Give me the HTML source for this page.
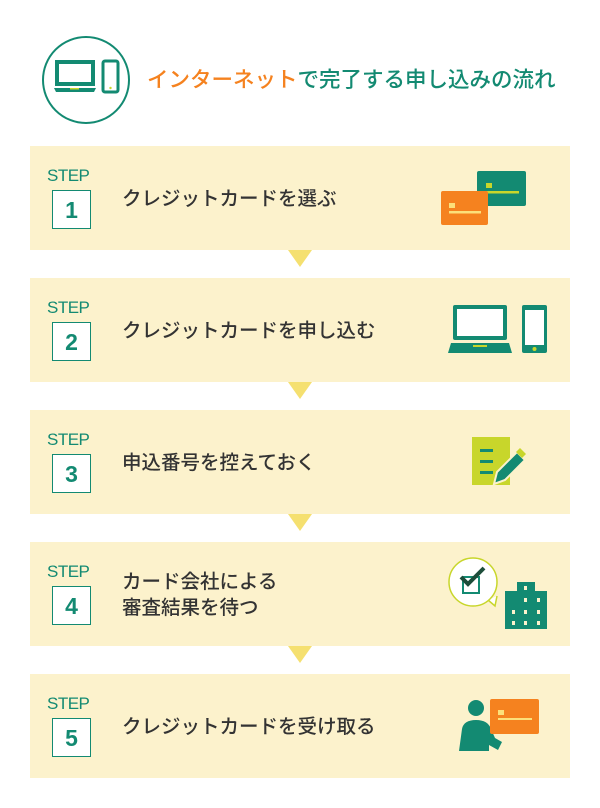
<!DOCTYPE html>
<html><head><meta charset="utf-8"><style>
body{margin:0;width:600px;height:808px;background:#fff;position:relative;font-family:"Liberation Sans","Noto Sans CJK JP",sans-serif;overflow:hidden}
.p{position:absolute;left:30px;width:540px;height:104px;background:#fcf2cc}
.st{position:absolute;left:17px;top:20px;font-size:17px;color:#138a72;letter-spacing:-0.5px}
.bx{position:absolute;left:22px;top:44px;width:37px;height:37px;border:1.5px solid #138a72;background:#fff;color:#138a72;font-weight:bold;font-size:23px;text-align:center;line-height:38px}
.t{position:absolute;left:92px;top:40px;font-size:19.5px;color:#333;font-weight:500;line-height:26px;white-space:nowrap}
.tri{position:absolute;left:288px;width:0;height:0;border-left:12px solid transparent;border-right:12px solid transparent;border-top:17px solid #f5e070}
svg{position:absolute;left:0;top:0}
</style></head><body>
<div style="position:absolute;left:42px;top:36px;width:88px;height:88px;border:2px solid #138a72;border-radius:50%;box-sizing:border-box"></div>
<div style="position:absolute;left:147px;top:63px;font-size:21.5px;font-weight:500;color:#138a72;white-space:nowrap"><span style="color:#f5821f">インターネット</span>で完了する申し込みの流れ</div>

<div class="p" style="top:146px"><div class="st">STEP</div><div class="bx">1</div><div class="t">クレジットカードを選ぶ</div></div>
<div class="tri" style="top:250px"></div>
<div class="p" style="top:278px"><div class="st">STEP</div><div class="bx">2</div><div class="t">クレジットカードを申し込む</div></div>
<div class="tri" style="top:382px"></div>
<div class="p" style="top:410px"><div class="st">STEP</div><div class="bx">3</div><div class="t">申込番号を控えておく</div></div>
<div class="tri" style="top:514px"></div>
<div class="p" style="top:542px"><div class="st">STEP</div><div class="bx">4</div><div class="t" style="top:27px">カード会社による<br>審査結果を待つ</div></div>
<div class="tri" style="top:646px"></div>
<div class="p" style="top:674px"><div class="st">STEP</div><div class="bx">5</div><div class="t">クレジットカードを受け取る</div></div>

<svg width="600" height="808">
<rect x="57" y="62" width="36" height="22" fill="none" stroke="#138a72" stroke-width="4"/>
<path d="M54 88h42l-2 4H56z" fill="#138a72"/><rect x="70" y="88" width="9" height="1.5" fill="#c8d62b"/>
<rect x="103" y="61" width="15" height="31" rx="2" fill="none" stroke="#138a72" stroke-width="3"/>
<circle cx="110.5" cy="88" r="1.2" fill="#c8d62b"/>
<rect x="477" y="171" width="49" height="35" rx="2" fill="#138a72"/>
<rect x="486" y="183" width="6" height="5" fill="#c8d62b"/><rect x="486" y="191" width="33" height="2.5" fill="#c8d62b"/>
<rect x="441" y="191" width="47" height="34" rx="2" fill="#f5821f"/>
<rect x="449" y="203" width="6" height="5" fill="#fce07a"/><rect x="449" y="211" width="32" height="2.5" fill="#fce07a"/>
<rect x="453" y="305" width="54" height="35" rx="2" fill="#138a72"/><rect x="457" y="309" width="46" height="27" fill="#fff"/>
<path d="M451 343h58l3 10h-64z" fill="#138a72"/><rect x="473" y="345" width="14" height="2" fill="#c8d62b"/>
<rect x="522" y="305" width="25" height="48" rx="2" fill="#138a72"/><rect x="525" y="310" width="19" height="35" fill="#fff"/>
<circle cx="534.5" cy="349" r="2" fill="#c8d62b"/>
<rect x="472" y="437" width="38" height="48" fill="#c8d62b"/>
<rect x="480" y="449" width="13" height="3" fill="#138a72"/><rect x="480" y="460" width="13" height="3" fill="#138a72"/><rect x="480" y="471" width="13" height="3" fill="#138a72"/>
<path d="M494 484l3-12 20-20 8 8-20 20z" fill="#138a72" stroke="#fcf2cc" stroke-width="2"/>
<path d="M516 452l4-4 6 6-4 4z" fill="#c8d62b"/>
<path d="M497 596 L495 606 L488 600" fill="#fff" stroke="#c8d62b" stroke-width="1.5"/>
<circle cx="473" cy="582" r="24" fill="#fff" stroke="#c8d62b" stroke-width="1.5"/>
<circle cx="473" cy="582" r="23" fill="#fff"/>
<rect x="463" y="577" width="16" height="16" fill="none" stroke="#138a72" stroke-width="2"/>
<path d="M461 577l7 7 16-16" fill="none" stroke="#1d4d3a" stroke-width="4"/>
<rect x="505" y="591" width="42" height="38" fill="#138a72"/><rect x="517" y="582" width="18" height="12" fill="#138a72"/>
<g fill="#fcf2cc"><rect x="524" y="586" width="3" height="4"/><rect x="524" y="598" width="3" height="4"/><rect x="524" y="610" width="3" height="4"/><rect x="524" y="621" width="3" height="4"/>
<rect x="512" y="610" width="3" height="4"/><rect x="512" y="621" width="3" height="4"/><rect x="537" y="598" width="3" height="4"/><rect x="537" y="610" width="3" height="4"/><rect x="537" y="621" width="3" height="4"/></g>
<circle cx="476" cy="708" r="8" fill="#138a72"/>
<path d="M459 751l3-22c1-6 6-9 14-9 8 0 13 3 15 9l4 9 7 4-4 8-9-5v6z" fill="#138a72"/>
<rect x="490" y="699" width="49" height="35" rx="2" fill="#f5821f"/>
<rect x="498" y="710" width="6" height="5" fill="#fce07a"/><rect x="498" y="718" width="34" height="2" fill="#fce07a"/>
</svg>
</body></html>
